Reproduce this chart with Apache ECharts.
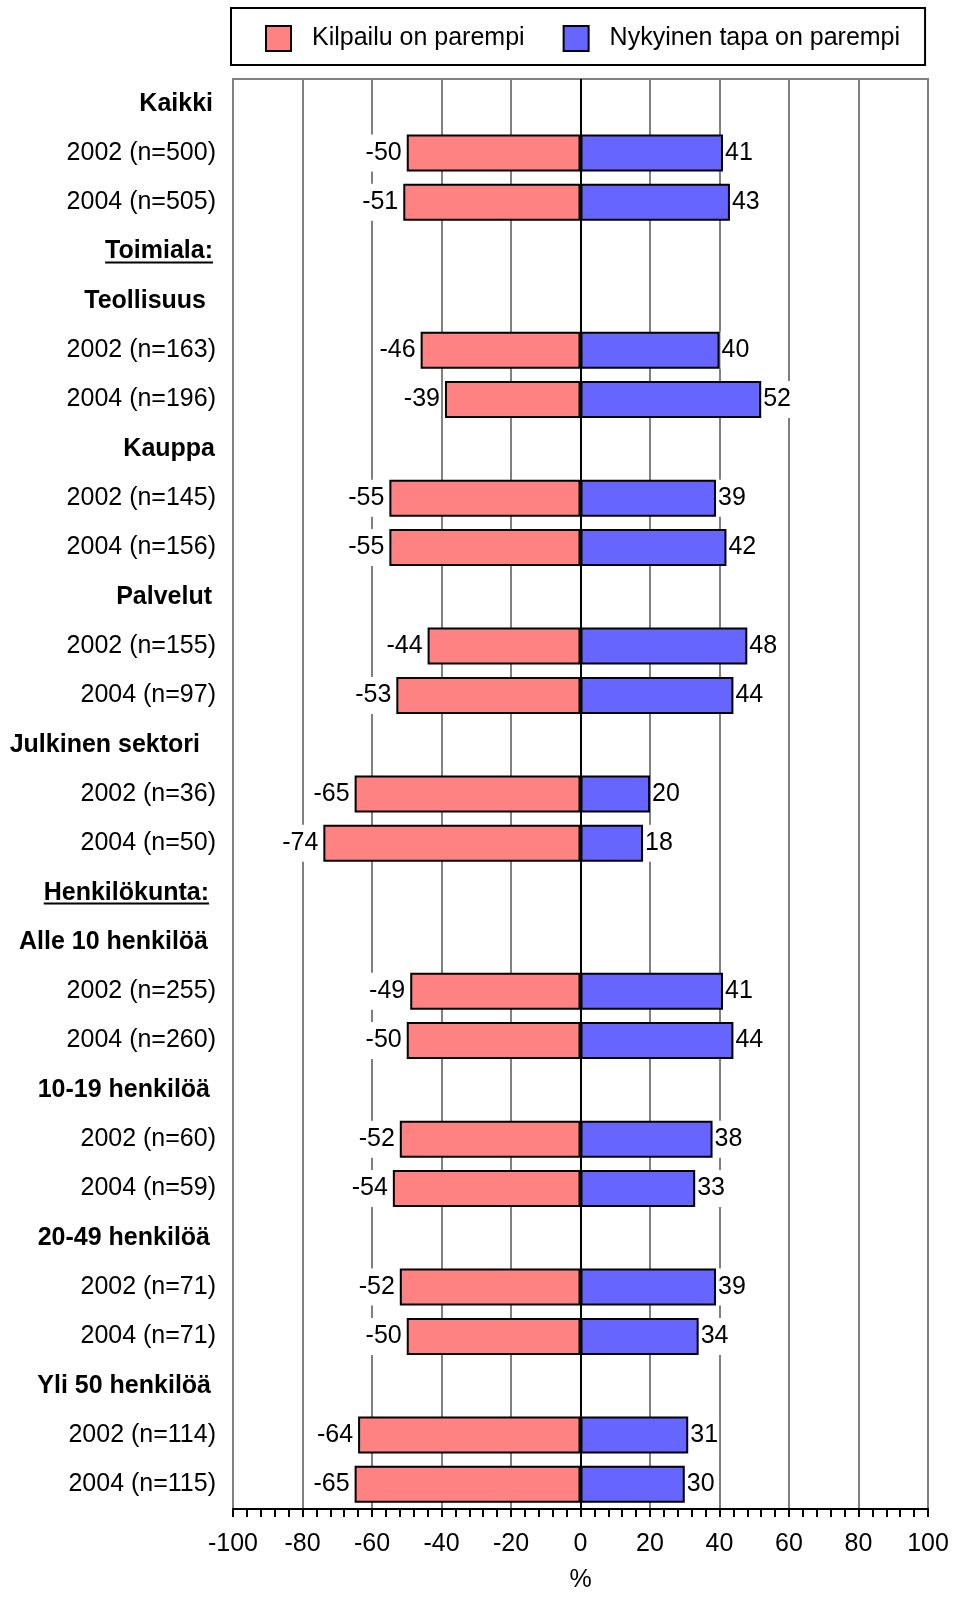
<!DOCTYPE html>
<html>
<head>
<meta charset="utf-8">
<script src="https://cdn.jsdelivr.net/npm/echarts@6/dist/echarts.min.js"></script>
<style>
  html, body { margin: 0; padding: 0; background: #fff; }
  #chart { width: 955px; height: 1598px; }
</style>
</head>
<body>
<div id="chart"></div>
<script>
// Row labels, top to bottom (group headings have no bars)
const categories = [
  'Kaikki', '2002 (n=500)', '2004 (n=505)',
  'Toimiala:',
  'Teollisuus', '2002 (n=163)', '2004 (n=196)',
  'Kauppa', '2002 (n=145)', '2004 (n=156)',
  'Palvelut', '2002 (n=155)', '2004 (n=97)',
  'Julkinen sektori', '2002 (n=36)', '2004 (n=50)',
  'Henkilökunta:',
  'Alle 10 henkilöä', '2002 (n=255)', '2004 (n=260)',
  '10-19 henkilöä', '2002 (n=60)', '2004 (n=59)',
  '20-49 henkilöä', '2002 (n=71)', '2004 (n=71)',
  'Yli 50 henkilöä', '2002 (n=114)', '2004 (n=115)'
];
const headings = [
  'Kaikki', 'Toimiala:', 'Teollisuus', 'Kauppa', 'Palvelut', 'Julkinen sektori',
  'Henkilökunta:', 'Alle 10 henkilöä', '10-19 henkilöä', '20-49 henkilöä', 'Yli 50 henkilöä'
];
const underlined = ['Toimiala:', 'Henkilökunta:'];

const seriesNames = ['Kilpailu on parempi', 'Nykyinen tapa on parempi'];
// "Kilpailu on parempi" shares, drawn to the left as negative percentages
const kilpailu = [
  null, -50, -51,
  null,
  null, -46, -39,
  null, -55, -55,
  null, -44, -53,
  null, -65, -74,
  null,
  null, -49, -50,
  null, -52, -54,
  null, -52, -50,
  null, -64, -65
];
// "Nykyinen tapa on parempi" shares
const nykyinen = [
  null, 41, 43,
  null,
  null, 40, 52,
  null, 39, 42,
  null, 48, 44,
  null, 20, 18,
  null,
  null, 41, 44,
  null, 38, 33,
  null, 39, 34,
  null, 31, 30
];
const xTicks = [-100, -80, -60, -40, -20, 0, 20, 40, 60, 80, 100];

const FONT = '"Liberation Sans", Arial, Helvetica, sans-serif';
const FS = 25;
const RED = '#ff8282';
const BLUE = '#6666ff';

// right-hand indent of each heading label (px)
const headingIndent = {
  'Kaikki': 3, 'Toimiala:': 3, 'Teollisuus': 10, 'Kauppa': 1, 'Palvelut': 4,
  'Julkinen sektori': 16, 'Henkilökunta:': 7, 'Alle 10 henkilöä': 8,
  '10-19 henkilöä': 6, '20-49 henkilöä': 6, 'Yli 50 henkilöä': 5
};

const rich = { n: { fontFamily: FONT, fontSize: FS, color: '#000' } };
headings.forEach((h, i) => {
  rich['h' + i] = {
    fontFamily: FONT, fontSize: FS, fontWeight: 'bold', color: '#000',
    padding: [0, headingIndent[h] || 0, 0, 0]
  };
});

const chart = echarts.init(document.getElementById('chart'), null, { renderer: 'canvas' });

const barLabel = (pos, dist) => ({
  show: true,
  position: pos,
  distance: dist,
  color: '#000',
  fontFamily: FONT,
  fontSize: FS,
  backgroundColor: '#fff',
  padding: [6, 1, 6, 1],
  formatter: p => String(p.value)
});

chart.setOption({
  animation: false,
  backgroundColor: '#fff',
  textStyle: { fontFamily: FONT },
  legend: {
    left: 231,
    top: 8,
    data: seriesNames,
    icon: 'rect',
    itemWidth: 25,
    itemHeight: 25,
    itemGap: 38,
    padding: [17, 25, 13, 34],
    borderColor: '#000',
    borderWidth: 2,
    backgroundColor: '#fff',
    textStyle: { fontFamily: FONT, fontSize: FS, color: '#000', padding: [0, 0, 0, 16] }
  },
  grid: {
    left: 233,
    right: 27,
    top: 79,
    bottom: 83,
    show: true,
    borderColor: '#808080',
    borderWidth: 2,
    backgroundColor: 'transparent'
  },
  xAxis: {
    type: 'value',
    min: xTicks[0],
    max: xTicks[xTicks.length - 1],
    interval: 20,
    name: '%',
    nameLocation: 'middle',
    nameGap: 59,
    nameTextStyle: { fontFamily: FONT, fontSize: FS, color: '#000' },
    axisLine: { show: true, lineStyle: { color: '#000', width: 2 } },
    axisTick: { show: true, length: 8, lineStyle: { color: '#000', width: 2 } },
    minorTick: { show: true, splitNumber: 5, length: 8, lineStyle: { color: '#000', width: 2 } },
    splitLine: { show: true, lineStyle: { color: '#808080', width: 2 } },
    axisLabel: { fontFamily: FONT, fontSize: FS, color: '#000', margin: 23 }
  },
  yAxis: {
    type: 'category',
    inverse: true,
    data: categories,
    axisLine: { show: false },
    axisTick: { show: false },
    splitLine: { show: false },
    axisLabel: {
      margin: 17,
      interval: 0,
      formatter: v => {
        const i = headings.indexOf(v);
        return i >= 0 ? '{h' + i + '|' + v + '}' : '{n|' + v + '}';
      },
      rich: rich
    }
  },
  series: [
    {
      name: seriesNames[0],
      type: 'bar',
      data: kilpailu,
      barWidth: 37,
      barGap: '-100%',
      z: 3,
      itemStyle: { color: RED, borderColor: '#000', borderWidth: 2 },
      label: barLabel('left', 4),
      markLine: {
        silent: true,
        symbol: 'none',
        label: { show: false },
        lineStyle: { color: '#000', width: 2, type: 'solid' },
        data: [{ xAxis: 0 }]
      }
    },
    {
      name: seriesNames[1],
      type: 'bar',
      data: nykyinen,
      barWidth: 37,
      z: 3,
      itemStyle: { color: BLUE, borderColor: '#000', borderWidth: 2 },
      label: barLabel('right', 1)
    }
  ]
});

// Underlines for the two section headings, placed from the category axis scale
const ctx = document.createElement('canvas').getContext('2d');
ctx.font = 'bold ' + FS + 'px ' + FONT;
const underlines = underlined.map(name => {
  const right = 233 - 17 - (headingIndent[name] || 0);
  const y = Math.round(chart.convertToPixel({ yAxisIndex: 0 }, name)) + 10.5;
  const w = ctx.measureText(name).width;
  return {
    type: 'line',
    silent: true,
    shape: { x1: right - w, y1: y, x2: right, y2: y },
    style: { stroke: '#000', lineWidth: 2 }
  };
});
chart.setOption({ graphic: underlines });
</script>
</body>
</html>
